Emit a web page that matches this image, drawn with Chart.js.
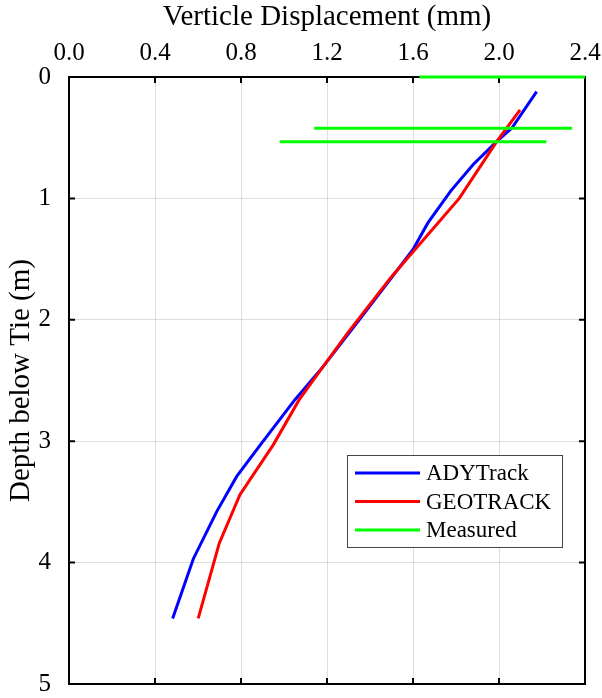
<!DOCTYPE html>
<html><head><meta charset="utf-8">
<script src="https://cdn.jsdelivr.net/npm/chart.js@4/dist/chart.umd.min.js"></script>
<style>html,body{margin:0;padding:0;background:#fff}</style>
</head><body>
<canvas id="c" width="602" height="698"></canvas>
<script>
// ---- data ----
const xTicks = [0, 0.4, 0.8, 1.2, 1.6, 2.0, 2.4];
const yTicks = [0, 1, 2, 3, 4, 5];
const seriesNames = ['ADYTrack', 'GEOTRACK', 'Measured'];

const adyDepth = [0.12, 0.42, 0.53, 0.72, 0.94, 1.2, 1.42, 1.7, 2.0, 2.39, 2.66, 3.03, 3.29, 3.58, 3.97, 4.46];
const adyDisp  = [2.175, 2.06, 1.99, 1.88, 1.775, 1.67, 1.60, 1.48, 1.35, 1.18, 1.05, 0.89, 0.78, 0.687, 0.578, 0.482];

const geoDepth = [0.27, 0.53, 1.0, 1.645, 2.1, 2.39, 2.66, 3.03, 3.44, 3.84, 4.46];
const geoDisp  = [2.098, 1.99, 1.815, 1.50, 1.30, 1.18, 1.07, 0.95, 0.795, 0.699, 0.601];

const measDepth = [0, 0.423, 0.533];
const measFrom  = [1.63, 1.14, 0.98];
const measTo    = [2.4, 2.34, 2.22];

// ---- build datasets ----
const toPts = (xs, ys) => xs.map((x, i) => ({x: x, y: ys[i]}));
const measPts = [];
measDepth.forEach((d, i) => {
  measPts.push({x: measFrom[i], y: d}, {x: measTo[i], y: d});
  if (i < measDepth.length - 1) measPts.push({x: NaN, y: NaN});
});

const FONT = "'Liberation Serif', 'Times New Roman', serif";

const framePlugin = {
  id: 'frame',
  beforeDatasetsDraw(chart) {
    const ctx = chart.ctx, a = chart.chartArea;
    const xs = chart.scales.x, ys = chart.scales.y;
    ctx.save();
    ctx.strokeStyle = '#000';
    ctx.lineWidth = 2;
    ctx.strokeRect(a.left, a.top, a.right - a.left, a.bottom - a.top);
    const L = 6;
    ctx.beginPath();
    xTicks.forEach(v => {
      const p = xs.getPixelForValue(v);
      ctx.moveTo(p, a.top); ctx.lineTo(p, a.top + L);
      ctx.moveTo(p, a.bottom); ctx.lineTo(p, a.bottom - L);
    });
    yTicks.forEach(v => {
      const p = ys.getPixelForValue(v);
      ctx.moveTo(a.left, p); ctx.lineTo(a.left + L, p);
      ctx.moveTo(a.right, p); ctx.lineTo(a.right - L, p);
    });
    ctx.stroke();
    ctx.restore();
  }
};

const legendPlugin = {
  id: 'innerLegend',
  afterDraw(chart) {
    const ctx = chart.ctx, a = chart.chartArea;
    const bw = 215, bh = 92;
    const bx = a.right - 238, by = a.bottom - 229;
    ctx.save();
    ctx.fillStyle = '#fff';
    ctx.fillRect(bx, by, bw, bh);
    ctx.strokeStyle = '#444';
    ctx.lineWidth = 1;
    ctx.strokeRect(bx + 0.5, by + 0.5, bw, bh);
    ctx.font = '23px ' + FONT;
    ctx.textBaseline = 'middle';
    ctx.textAlign = 'left';
    chart.data.datasets.forEach((ds, i) => {
      const y = by + 18 + i * 28.5;
      ctx.strokeStyle = ds.borderColor;
      ctx.lineWidth = 3;
      ctx.beginPath();
      ctx.moveTo(bx + 8, y); ctx.lineTo(bx + 73, y);
      ctx.stroke();
      ctx.fillStyle = '#000';
      ctx.fillText(ds.label, bx + 79, y + 1);
    });
    ctx.restore();
  }
};

const zeroPad = s => { s.paddingLeft = 0; s.paddingRight = 0; s.paddingTop = 0; s.paddingBottom = 0; };

new Chart(document.getElementById('c'), {
  type: 'line',
  data: {
    datasets: [
      {label: seriesNames[0], data: toPts(adyDisp, adyDepth), borderColor: '#0000ff', borderWidth: 3, pointRadius: 0, tension: 0, order: 3, fill: false},
      {label: seriesNames[1], data: toPts(geoDisp, geoDepth), borderColor: '#ff0000', borderWidth: 3, pointRadius: 0, tension: 0, order: 2, fill: false},
      {label: seriesNames[2], data: measPts, borderColor: '#00ff00', borderWidth: 3, pointRadius: 0, tension: 0, order: 1, fill: false, spanGaps: false, clip: false}
    ]
  },
  options: {
    responsive: false,
    animation: false,
    devicePixelRatio: 1,
    layout: {padding: {left: 0, top: 0, right: 17, bottom: 14}},
    plugins: {legend: {display: false}, tooltip: {enabled: false}},
    scales: {
      x: {
        type: 'linear', position: 'top', min: 0, max: 2.4,
        afterBuildTicks: s => { s.ticks = xTicks.map(v => ({value: v})); },
        afterFit: s => { s.height = 77; zeroPad(s); },
        ticks: {color: '#000', font: {family: FONT, size: 25}, padding: 9, callback: v => Number(v).toFixed(1), maxRotation: 0, autoSkip: false},
        grid: {color: 'rgba(0,0,0,0.13)', lineWidth: 1, drawTicks: false},
        border: {display: false},
        title: {display: true, text: 'Verticle Displacement (mm)', color: '#000', font: {family: FONT, size: 29}, padding: {top: 0, bottom: 0}}
      },
      y: {
        type: 'linear', reverse: true, min: 0, max: 5,
        afterBuildTicks: s => { s.ticks = yTicks.map(v => ({value: v})); },
        afterFit: s => { s.width = 69; zeroPad(s); },
        ticks: {color: '#000', font: {family: FONT, size: 25}, padding: 18, callback: v => String(v), autoSkip: false},
        grid: {color: 'rgba(0,0,0,0.13)', lineWidth: 1, drawTicks: false},
        border: {display: false},
        title: {display: true, text: 'Depth below Tie (m)', color: '#000', font: {family: FONT, size: 29}, padding: {top: 4, bottom: 0}}
      }
    }
  },
  plugins: [framePlugin, legendPlugin]
});
</script>
</body></html>
